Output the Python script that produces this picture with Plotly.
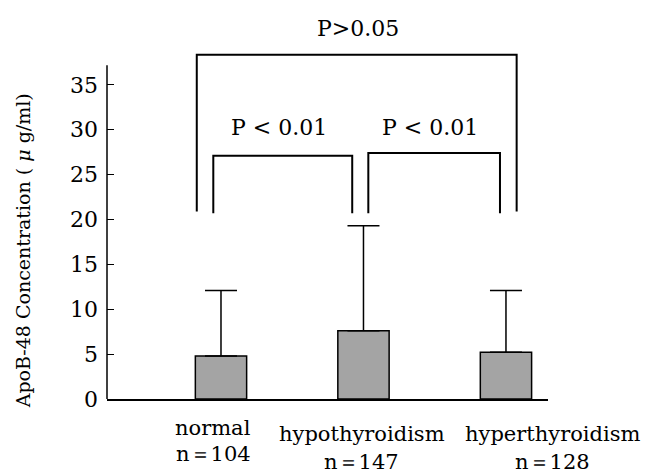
import plotly.graph_objects as go

# ---- data ----
groups = ["normal", "hypothyroidism", "hyperthyroidism"]
n_labels = ["n\uff1d104", "n\uff1d147", "n\uff1d128"]
means = [4.8, 7.6, 5.2]
sds = [7.3, 11.7, 6.9]
y_ticks = [0, 5, 10, 15, 20, 25, 30, 35]

# significance brackets: (x_left, x_right, y_bottom, y_top, label, label_x, label_y)
brackets = [
    (0.83, 3.075, 20.9, 38.35, "P>0.05", 1.96, 41.3),
    (0.946, 1.921, 20.7, 27.1, "P < 0.01", 1.41, 30.3),
    (2.034, 2.958, 20.7, 27.4, "P < 0.01", 2.47, 30.3),
]

# label placement (paper coordinates)
group_label_x = [0.2404, 0.578, 1.0113]
group_label_y = [-0.0808, -0.0975, -0.0975]
n_label_y = [-0.1545, -0.1745, -0.1745]

x_pos = [1, 2, 3]
Y_MAX = 40
FONT = "DejaVu Serif"

fig = go.Figure()
fig.add_trace(go.Bar(
    x=x_pos, y=means, width=0.36,
    marker=dict(color="#a4a4a4", line=dict(color="black", width=1.5)),
    error_y=dict(type="data", symmetric=False, array=sds,
                 arrayminus=[0] * len(sds), color="black",
                 thickness=1.5, width=16),
    showlegend=False,
))

for xl, xr, yb, yt, lab, lx, ly in brackets:
    fig.add_trace(go.Scatter(
        x=[xl, xl, xr, xr], y=[yb, yt, yt, yb], mode="lines",
        line=dict(color="black", width=2), showlegend=False,
        hoverinfo="skip",
    ))
    fig.add_annotation(x=lx, y=ly / Y_MAX, yref="paper", text=lab,
                       showarrow=False,
                       font=dict(family=FONT, size=22, color="black"),
                       xanchor="center", yanchor="middle")

for gx, gy, ny, g, n in zip(group_label_x, group_label_y, n_label_y, groups, n_labels):
    fig.add_annotation(x=gx, y=gy, xref="paper", yref="paper", text=g,
                       showarrow=False,
                       font=dict(family=FONT, size=21, color="black"),
                       xanchor="center", yanchor="middle")
    fig.add_annotation(x=gx, y=ny, xref="paper", yref="paper", text=n,
                       showarrow=False,
                       font=dict(family=FONT, size=21, color="black"),
                       xanchor="center", yanchor="middle")

# y axis title as rotated annotation
fig.add_annotation(x=-0.19, y=0.412, xref="paper", yref="paper",
                   text="ApoB-48 Concentration ( <i>\u03bc</i> g/ml)",
                   textangle=-90, showarrow=False,
                   font=dict(family=FONT, size=19, color="black"),
                   xanchor="center", yanchor="middle")

# y axis line (stops below the top of the plotting range)
fig.add_shape(type="line", xref="paper", yref="y", x0=0, x1=0, y0=0, y1=37.2,
              line=dict(color="black", width=1.5))

fig.update_layout(
    width=645, height=473,
    margin=dict(l=107, r=97, t=40, b=74),
    plot_bgcolor="white", paper_bgcolor="white",
    font=dict(family=FONT, color="black"),
    xaxis=dict(range=[0.2, 3.295], showline=True, linecolor="black",
               linewidth=1.5, showticklabels=False, ticks="",
               showgrid=False, zeroline=False),
    yaxis=dict(range=[0, Y_MAX], tickvals=y_ticks, ticks="inside",
               ticklen=7, tickwidth=1.2, tickcolor="black",
               showline=False, showgrid=False, zeroline=False,
               ticklabelstandoff=8,
               tickfont=dict(family=FONT, size=22, color="black")),
)

fig.write_html("out.html")
